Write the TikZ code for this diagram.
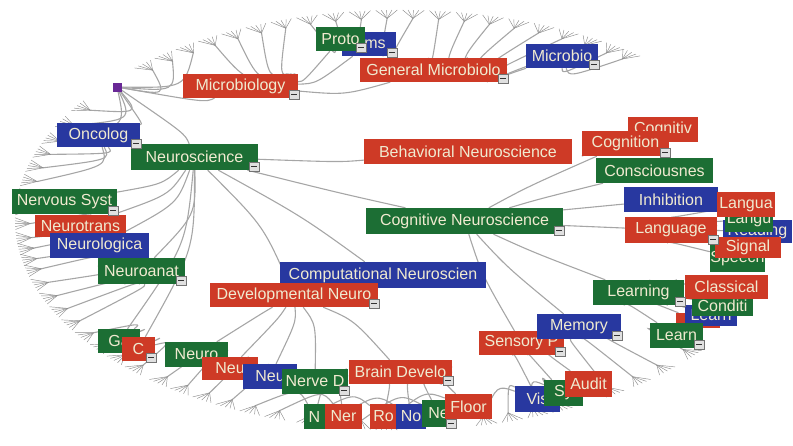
\documentclass[tikz,border=0pt]{standalone}
\usepackage{fontspec}
\usetikzlibrary{calc,backgrounds}
\newfontfamily\labfont{Liberation Sans}
\definecolor{hbred}{RGB}{206,58,38}
\definecolor{hbgreen}{RGB}{28,110,52}
\definecolor{hbblue}{RGB}{40,56,160}
\definecolor{hbpurple}{RGB}{105,40,150}
\definecolor{labtxt}{RGB}{240,234,208}
\tikzstyle{lbl} = [inner sep=0pt, text=labtxt, font=\labfont\fontsize{16}{18}\selectfont]
\tikzstyle{branch} = [draw=black!35, line width=1.1pt]
\tikzstyle{twig} = [draw=black!45, line width=0.45pt]
\tikzstyle{icon} = [fill=white!88!black, draw=black!55, line width=0.4pt, minimum width=10pt, minimum height=9pt, inner sep=0pt, anchor=south east,
    path picture={\draw[black!80, line width=1.2pt] ([xshift=-3pt]path picture bounding box.center) -- ([xshift=3pt]path picture bounding box.center);}]

\begin{document}
\begin{tikzpicture}[x=1pt,y=-1pt]
    \useasboundingbox (0,0) rectangle (793,445);
    \coordinate (ctr) at (400,220);
    \node[fill=hbpurple, minimum size=9pt, inner sep=0pt] (root) at (117,87) {};
    \foreach \n/\x/\y/\w/\h/\col/\txt in {
        orgms/369/44/54/24/hbblue/\hspace{12pt}ms,
        proto/340.5/39/49/24/hbgreen/Proto,
        micro/240.5/86/115/24/hbred/Microbiology,
        genmicro/433.5/70/147/24/hbred/General Microbiolo,
        microbio/562/56/72/24/hbblue/Microbio,
        onco/98.5/135/83/24/hbblue/Oncolog,
        neuro/194.5/157/127/26/hbgreen/Neuroscience,
        nervous/64.5/201.5/105/25/hbgreen/Nervous Syst,
        neurotr/80.5/226/91/22/hbred/Neurotrans,
        neurolog/99.5/245.5/99/25/hbblue/Neurologica,
        neuroanat/141.5/271/87/26/hbgreen/Neuroanat,
        ga/119/341/42/24/hbgreen/Ga,
        ce/138.5/349/33/24/hbred/C,
        behav/468/151.5/208/25/hbred/Behavioral Neuroscience,
        cogn/464.5/221/197/26/hbgreen/Cognitive Neuroscience,
        comput/383/275/206/26/hbblue/Computational Neuroscien,
        devel/294/295/168/24/hbred/Developmental Neuro,
        neug/196.5/354.5/63/25/hbgreen/Neuro,
        neur/230/368.5/56/23/hbred/Neu,
        neub/270/376.5/54/25/hbblue/Neu,
        nerve/315/381.5/66/25/hbgreen/Nerve D,
        brain/400.5/372/103/24/hbred/Brain Develo,
        nn/314.5/416.5/21/25/hbgreen/N,
        ner/343.5/416.5/37/25/hbred/Ner,
        ro/383.5/416.5/27/25/hbred/Ro,
        no/411/416.5/30/25/hbblue/No,
        ne/438.5/413.5/33/27/hbgreen/Ne,
        floor/468.5/406.5/47/25/hbred/Floor,
        sensory/521.5/343/85/24/hbred/Sensory P,
        memory/579/326.5/84/25/hbblue/Memory,
        vis/537.5/399/45/26/hbblue/Vis,
        sy/563.5/393/39/26/hbgreen/Sy,
        audit/588.5/384/47/26/hbred/Audit,
        cognitiv/663/129.5/70/25/hbred/Cognitiv,
        cognition/625.5/143.5/87/25/hbred/Cognition,
        conscious/654.5/170.5/117/25/hbgreen/Consciousnes,
        inhib/671/199.5/94/25/hbblue/Inhibition,
        reading/757.5/231.5/69/23/hbblue/Reading,
        langu/749/219.5/48/25/hbgreen/Langu,
        langua/746/204.5/58/25/hbred/Langua,
        speech/737.5/258.5/55/27/hbgreen/Speech,
        signal/748/247.5/66/21/hbred/Signal,
        language/671/230/92/26/hbred/Language,
        redsm/698/320.5/44/15/hbred/{},
        learnb/711/315.5/52/21/hbblue/Learn,
        conditi/722.5/306/61/20/hbgreen/Conditi,
        classical/726.5/287/83/24/hbred/Classical,
        learning/638.5/292.5/91/25/hbgreen/Learning,
        learng/676.5/335.5/53/25/hbgreen/Learn}
        \node[lbl, fill=\col, minimum width=\w, minimum height=\h] (\n) at (\x,\y) {\txt};
    \foreach \n in {micro,proto,orgms,genmicro,microbio,onco,neuro,nervous,neuroanat,ce,devel,nerve,brain,ne,sensory,memory,cognition,cogn,language,learning,learng}
        \node[icon] (\n-ic) at ([shift={(1,1)}]\n.south east) {};
    \begin{scope}[on background layer]
        \foreach \pa/\ch in {root/micro,root/onco,root/neuro,micro/genmicro,micro/proto,micro/orgms,genmicro/microbio,
            neuro/behav,neuro/cogn,neuro/comput,neuro/devel,neuro/nervous,neuro/neurotr,neuro/neurolog,neuro/neuroanat,neuro/ga,neuro/ce,
            cogn/cognition,cogn/conscious,cogn/inhib,cogn/language,cogn/learning,cogn/memory,cogn/sensory,cognition/cognitiv,
            language/langua,language/langu,language/reading,language/signal,language/speech,
            learning/classical,learning/conditi,learning/learnb,learning/redsm,learning/learng,
            sensory/vis,sensory/sy,sensory/audit,devel/neug,devel/neur,devel/neub,devel/nerve,devel/brain,
            nerve/nn,nerve/ner,brain/ro,brain/no,brain/ne,brain/floor}
            \draw[branch] (\pa) .. controls ($0.44*(\pa)+0.44*(\ch)+0.12*(ctr)$) .. (\ch);
        \foreach \pa/\angs in {microbio/{53,56},genmicro/{60,64,68,72,76,80,84},orgms/{88,92},proto/{96,100,104},
            micro/{108,112,116,120},root/{124,128,132,147,152,157},onco/{161,165,169},nervous/{173,177,181},
            neurotr/{185,188},neurolog/{191,194},neuroanat/{198,202,206,210},ga/{214,218},ce/{222,226},
            neug/{231,235},neur/{239},neub/{243},nn/{247},ner/{251},ro/{256},no/{260},ne/{264},floor/{268},
            vis/{283,287},sy/{291,295},memory/{304,309,314},learng/{320}}{
            \foreach \ang in \angs {
                \coordinate (tip) at ({400+369.6*cos(\ang)},{220-201.6*sin(\ang)});
                \draw[branch] (\pa) .. controls ($0.44*(\pa)+0.44*(tip)+0.12*(ctr)$) .. (tip);
                \foreach \dd in {-1.6,-0.8,0,0.8,1.6}
                    \draw[twig] (tip) -- ({400+385*cos(\ang+\dd)},{220-210*sin(\ang+\dd)});
            }
        }
    \end{scope}
\end{tikzpicture}
\end{document}
